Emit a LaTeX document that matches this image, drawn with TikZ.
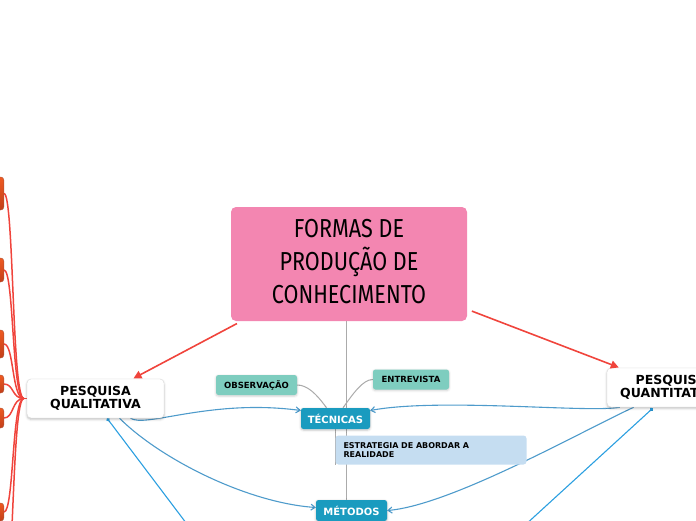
\documentclass[tikz,border=0pt]{standalone}
\usepackage{fontspec}
\setmainfont{DejaVu Sans}
\newfontfamily\titlefont{Fira Sans}
\usepackage{xcolor}
\usepackage{graphicx}
\usetikzlibrary{
  arrows.meta, calc, backgrounds, shadows.blur
}
\definecolor{cpink}{HTML}{F386B1}
\definecolor{cred}{HTML}{F0443C}
\definecolor{cteal}{HTML}{1A9BBF}
\definecolor{cmint}{HTML}{7ECDBF}
\definecolor{csky}{HTML}{C5DDF1}
\definecolor{clink}{HTML}{4E9BCB}
\definecolor{cbright}{HTML}{2B9FE0}
\definecolor{cgray}{HTML}{ABABAB}
\definecolor{corange}{HTML}{EE5A22}
\definecolor{cdeep}{HTML}{C23E18}
\definecolor{cframe}{HTML}{DADADA}

\begin{document}
\begin{tikzpicture}[
  x=1pt, y=-1pt,
  every node/.style={align=center, inner sep=0pt},
  topic/.style={fill=cpink, rounded corners=5pt,
                minimum width=236pt, minimum height=114pt},
  main/.style={fill=white, draw=cframe, rounded corners=4pt, minimum height=39pt,
               font=\fontsize{12.5}{13.5}\selectfont\bfseries,
               blur shadow={shadow xshift=0pt, shadow yshift=-1.5pt, shadow opacity=25}},
  sub/.style={fill=cteal, text=white, rounded corners=2.5pt, minimum height=21pt,
              font=\fontsize{10}{11}\selectfont\bfseries,
              blur shadow={shadow xshift=0pt, shadow yshift=-1pt, shadow opacity=25}},
  leaf/.style={fill=cmint, rounded corners=2.5pt, minimum height=20pt,
               font=\fontsize{8.5}{9}\selectfont\bfseries,
               blur shadow={shadow xshift=0pt, shadow yshift=-1pt, shadow opacity=20}},
  note/.style={fill=csky, rounded corners=3pt, minimum height=29pt, text width=175pt,
               align=left, inner xsep=8pt, font=\fontsize{8}{9}\selectfont\bfseries},
  side/.style={draw=cdeep!70!gray, top color=corange, bottom color=cdeep,
               rounded corners=3pt, minimum width=30pt, anchor=east},
  redarr/.style={-{Triangle[length=8pt, width=8pt]}, line width=1.6pt, draw=cred,
                 shorten <=5pt, shorten >=1pt},
  redln/.style={draw=cred, line width=1.5pt},
  link/.style={-{Straight Barb[length=4pt, width=6pt]}, draw=clink, line width=1.1pt},
  pin/.style={{Circle[length=3.5pt]}-, draw=cbright, line width=1.1pt},
  tie/.style={draw=cgray, line width=1pt},
]
\clip (0,0) rectangle (696,520);

% centre
\node[topic] (topic) at (349,264)
  {\titlefont\fontsize{26}{33}\selectfont\scalebox{0.83}[1]{%
   \begin{tabular}{@{}c@{}}FORMAS DE\\PRODUÇÃO DE\\CONHECIMENTO\end{tabular}}};
% main branches
\node[main, minimum width=137pt] (quali)  at (95.5,398.5) {PESQUISA\\QUALITATIVA};
\node[main, minimum width=128pt] (quanti) at (671,387.5)  {PESQUISA\\QUANTITATIVA};
% middle column
\node[sub, minimum width=69pt] (tec) at (335.5,418.5) {TÉCNICAS};
\node[sub, minimum width=71pt] (met) at (351.5,510.5) {MÉTODOS};
\node[leaf, minimum width=81pt] (obs) at (256.5,385)  {OBSERVAÇÃO};
\node[leaf, minimum width=76pt] (ent) at (411,379.5)  {ENTREVISTA};
\node[note] (estr) at (431,450) {ESTRATEGIA DE ABORDAR A\\REALIDADE};
% left column (cut by the edge)
\node[side, minimum height=33pt] (b1) at (4,193.5) {};
\node[side, minimum height=24pt] (b2) at (4,270)   {};
\node[side, minimum height=28pt] (b3) at (4,344)   {};
\node[side, minimum height=18pt] (b4) at (4,384)   {};
\node[side, minimum height=20pt] (b5) at (4,418)   {};
\node[side, minimum height=18pt] (b6) at (4,512)   {};
\node[side, minimum height=20pt] (b7) at (4,600)   {};
\coordinate (hub) at ($(quali.west)+(-3,0)$);
\coordinate (qldown) at (205,548);
\coordinate (qtdown) at (500,548);

\begin{scope}[on background layer]
\draw[tie] ([xshift=-3pt]topic.south) -- ([xshift=-3pt]topic.south |- met.north);
\draw[tie] (tec.south) -- (tec.south |- estr.south);
\draw[tie] (obs.east) .. controls +(10,0) and +(-10,-14) .. ([xshift=-9pt]tec.north);
\draw[tie] (ent.west) .. controls +(-10,0) and +(10,-14) .. ([xshift=7.5pt]tec.north);

\draw[link] ([xshift=35pt]quali.south) .. controls +(15,10) and +(-90,-12)
  .. ([yshift=8pt]tec.west);
\draw[link] ([xshift=24pt]quali.south) .. controls +(40,40) and +(-70,-5)
  .. ([yshift=3pt]met.west);
\draw[link] ($(quanti.south west)+(13,0)$) .. controls +(-30,6) and +(70,-13)
  .. ([yshift=8pt]tec.east);
\draw[link] ($(quanti.south west)+(27,0)$) .. controls +(-54,25) and +(64,-5.5)
  .. (met.east);

\draw[pin] ([xshift=11.5pt]quali.south) -- (qldown);
\draw[pin] ($(quanti.south west)+(46,1)$) -- (qtdown);

\foreach \b in {b1,b2,b3,b4,b5,b6,b7}
  \draw[redln] (hub) .. controls +(-12,0) and +(10,0) .. (\b.east);
\draw[redln] (hub) -- (quali.west);
\end{scope}

\draw[redarr] (topic) -- (quali);
\draw[redarr] (topic) -- (quanti);
\end{tikzpicture}
\end{document}
